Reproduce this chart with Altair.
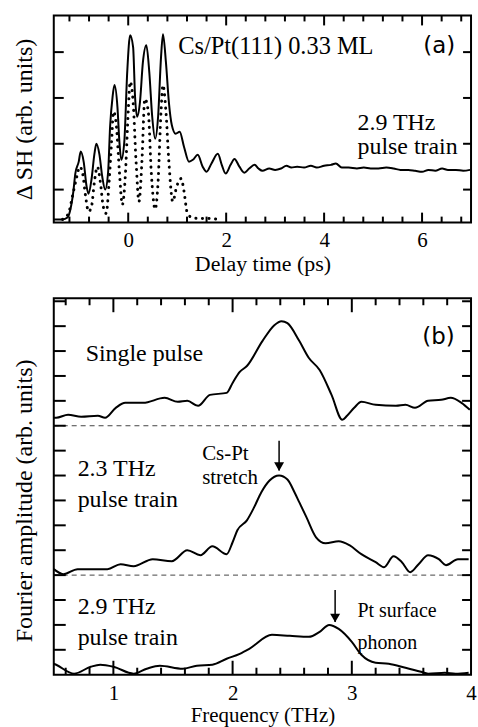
import altair as alt
import pandas as pd

# ---------------- panel (a): delay-time trace ----------------
delay_ps = [-1.52, -1.34, -1.24, -1.18, -1.12, -1.08, -1.01, -0.97, -0.91, -0.85,
            -0.81, -0.75, -0.69, -0.65, -0.59, -0.53, -0.47, -0.41, -0.37, -0.32,
            -0.28, -0.22, -0.18, -0.14, -0.08, -0.02, 0.04, 0.10, 0.14, 0.18,
            0.24, 0.30, 0.37, 0.43, 0.49, 0.55, 0.61, 0.67, 0.71, 0.77,
            0.83, 0.89, 0.97, 1.05, 1.14, 1.24, 1.32, 1.42, 1.52, 1.60,
            1.70, 1.83, 1.91, 1.99, 2.09, 2.17, 2.27, 2.37, 2.47, 2.58,
            2.66, 2.74, 2.88, 3.00, 3.12, 3.23, 3.33, 3.45, 3.59, 3.73,
            3.85, 4.00, 4.14, 4.24, 4.36, 4.50, 4.67, 4.81, 4.95, 5.11,
            5.27, 5.42, 5.56, 5.72, 5.86, 6.00, 6.13, 6.27, 6.41, 6.53,
            6.69, 6.84, 6.98]
sh_signal = [-0.65, -0.65, -0.61, -0.43, -0.04, 0.35, 0.61, 0.83, 0.61, 0.07,
             -0.09, 0.22, 0.78, 1.00, 0.78, 0.28, 0.00, 0.39, 1.37, 2.02,
             2.28, 1.80, 1.04, 0.65, 1.04, 2.57, 3.37, 3.11, 2.02, 1.59,
             1.91, 2.78, 3.15, 2.57, 1.59, 1.11, 1.59, 2.89, 3.39, 2.78,
             1.91, 1.41, 1.22, 1.26, 0.93, 0.61, 0.65, 0.76, 0.50, 0.39,
             0.57, 0.78, 0.54, 0.35, 0.54, 0.67, 0.50, 0.37, 0.46, 0.54,
             0.46, 0.41, 0.46, 0.43, 0.46, 0.52, 0.48, 0.50, 0.48, 0.52,
             0.48, 0.52, 0.54, 0.57, 0.48, 0.48, 0.46, 0.48, 0.46, 0.46,
             0.48, 0.46, 0.43, 0.43, 0.41, 0.39, 0.43, 0.41, 0.46, 0.43,
             0.43, 0.41, 0.43]

pump_ps = [-1.34, -1.22, -1.14, -1.05, -0.99, -0.93, -0.87, -0.81, -0.75, -0.69,
           -0.63, -0.57, -0.51, -0.45, -0.39, -0.34, -0.30, -0.24, -0.18, -0.12,
           -0.06, 0.00, 0.04, 0.10, 0.16, 0.22, 0.28, 0.34, 0.41, 0.47,
           0.55, 0.61, 0.67, 0.71, 0.77, 0.83, 0.91, 0.99, 1.08, 1.14,
           1.20, 1.30, 1.46, 1.66, 1.83]
pump_signal = [-0.65, -0.52, -0.15, 0.28, 0.50, 0.35, -0.15, -0.48, -0.37, 0.17,
               0.50, 0.17, -0.37, -0.52, 0.17, 1.04, 1.70, 1.37, 0.39, -0.33,
               0.28, 1.70, 2.35, 1.91, 0.61, -0.26, 0.61, 1.98, 1.70, 0.39,
               -0.43, 0.17, 1.70, 2.28, 1.70, 0.61, -0.26, 0.07, 0.24, -0.04,
               -0.48, -0.61, -0.63, -0.63, -0.65]

# ---------------- panel (b): Fourier spectra ----------------
freq_single = [0.50, 0.52, 0.62, 0.73, 0.87, 0.93, 1.02, 1.10, 1.25, 1.43,
               1.54, 1.62, 1.71, 1.81, 1.95, 2.00, 2.06, 2.12, 2.25, 2.35,
               2.41, 2.46, 2.56, 2.64, 2.73, 2.83, 2.92, 2.96, 3.02, 3.08,
               3.20, 3.37, 3.45, 3.53, 3.64, 3.75, 3.83, 3.92, 3.99]
amp_single = [10.32, 10.32, 10.44, 10.36, 10.40, 10.32, 10.72, 10.92, 10.92, 11.12,
              10.96, 11.00, 10.80, 11.24, 11.32, 11.72, 12.16, 12.40, 13.40, 14.04,
              14.20, 14.12, 13.40, 12.72, 12.24, 11.24, 10.24, 10.40, 10.72, 10.96,
              10.84, 10.80, 10.84, 10.72, 11.00, 11.04, 11.12, 10.92, 10.64]

freq_23 = [0.50, 0.58, 0.70, 0.95, 1.06, 1.17, 1.33, 1.49, 1.62, 1.73,
           1.83, 1.95, 2.00, 2.04, 2.12, 2.18, 2.24, 2.31, 2.39, 2.46,
           2.52, 2.56, 2.62, 2.70, 2.78, 2.89, 2.98, 3.08, 3.20, 3.27,
           3.35, 3.42, 3.49, 3.56, 3.64, 3.73, 3.79, 3.89, 3.98]
amp_23 = [4.24, 4.04, 4.24, 4.24, 4.44, 4.36, 4.64, 4.56, 5.00, 4.80,
          5.16, 4.84, 5.32, 5.80, 6.20, 6.72, 7.32, 7.80, 8.00, 7.84,
          7.32, 6.92, 6.32, 5.52, 5.28, 5.36, 5.20, 4.84, 4.52, 4.32,
          4.76, 4.52, 4.12, 4.44, 4.80, 4.64, 4.40, 4.64, 4.64]

freq_29 = [0.50, 0.52, 0.67, 0.81, 0.89, 1.00, 1.17, 1.28, 1.39, 1.58,
           1.70, 1.83, 1.95, 2.06, 2.14, 2.33, 2.48, 2.64, 2.73, 2.81,
           2.89, 3.00, 3.08, 3.20, 3.31, 3.45, 3.58, 3.64, 3.78, 3.87, 3.98]
amp_29 = [0.44, 0.40, 0.04, 0.32, 0.40, 0.32, 0.04, 0.24, 0.36, 0.24,
          0.36, 0.40, 0.64, 0.84, 1.04, 1.60, 1.56, 1.52, 1.72, 2.00,
          1.84, 1.32, 0.80, 0.48, 0.44, 0.28, 0.12, 0.04, 0.08, 0.04, 0.08]

# ticks / reference lines / arrows
a_x_major = [0, 2, 4, 6]
a_x_minor = [-1.2, -0.8, -0.4, 0.4, 0.8, 1.2, 1.6, 2.4, 2.8, 3.2, 3.6,
             4.4, 4.8, 5.2, 5.6, 6.4, 6.8]
a_y_ticks = [0, 1, 2, 3]
b_x_major = [1, 2, 3, 4]
b_x_minor = [0.6, 0.8, 1.2, 1.4, 1.6, 1.8, 2.2, 2.4, 2.6, 2.8,
             3.2, 3.4, 3.6, 3.8]
b_y_ticks = list(range(1, 16))
b_baselines = [4, 10]
arrow_freq = [2.39, 2.86]
arrow_top = [9.4, 3.4]
arrow_tip = [8.2, 2.12]

# ---------------- layout constants ----------------
W = 419
HA = 208
HB = 378
SERIF = "Liberation Serif, Times New Roman, serif"
SANS = "DejaVu Sans, sans-serif"

one = alt.Data(values=[{"k": 0}])

xa = alt.Scale(domain=[-1.52, 7.0], nice=False, zero=False)
ya = alt.Scale(domain=[-0.72, 3.80], nice=False, zero=False)
xb = alt.Scale(domain=[0.5, 4.0], nice=False, zero=False)
yb = alt.Scale(domain=[0, 15.12], nice=False, zero=False)

ax_xa = alt.Axis(values=a_x_major, title="Delay time (ps)", ticks=False, tickSize=0,
                 domain=False, grid=False, labelPadding=7, titlePadding=3,
                 labelFontSize=21, titleFontSize=22, format="d", labelFlush=False)
ax_ya = alt.Axis(labels=False, ticks=False, tickSize=0, domain=False, grid=False,
                 title="Δ SH (arb. units)", titlePadding=17, titleFontSize=24)
ax_xb = alt.Axis(values=b_x_major, title="Frequency (THz)", ticks=False, tickSize=0,
                 domain=False, grid=False, labelPadding=8, titlePadding=1,
                 labelFontSize=21, titleFontSize=21, format="d", labelFlush=False)
ax_yb = alt.Axis(labels=False, ticks=False, tickSize=0, domain=False, grid=False,
                 title="Fourier amplitude (arb. units)", titlePadding=17,
                 titleFontSize=24, titleY=203)


def label(text, x, y, size=24, font=SERIF):
    return alt.Chart(one).mark_text(text=text, font=font, fontSize=size, align="left",
                                    baseline="alphabetic", color="black").encode(
        x=alt.value(x), y=alt.value(y))


def xticks(vals, xs, ax, h, length, width=2):
    df = pd.DataFrame({"x": vals})
    bot = alt.Chart(df).mark_rule(color="black", strokeWidth=width).encode(
        x=alt.X("x:Q", scale=xs, axis=ax), y=alt.value(h), y2=alt.value(h - length))
    top = alt.Chart(df).mark_rule(color="black", strokeWidth=width).encode(
        x=alt.X("x:Q", scale=xs, axis=ax), y=alt.value(0), y2=alt.value(length))
    return [bot, top]


def yticks(vals, ys, ax, llen, rlen, width=2):
    df = pd.DataFrame({"y": vals})
    left = alt.Chart(df).mark_rule(color="black", strokeWidth=width).encode(
        y=alt.Y("y:Q", scale=ys, axis=ax), x=alt.value(0), x2=alt.value(llen))
    right = alt.Chart(df).mark_rule(color="black", strokeWidth=width).encode(
        y=alt.Y("y:Q", scale=ys, axis=ax), x=alt.value(W - rlen), x2=alt.value(W))
    return [left, right]


# ---------------- panel (a) ----------------
a_solid = alt.Chart(pd.DataFrame({"x": delay_ps, "y": sh_signal})).mark_line(
    color="black", strokeWidth=2, interpolate="monotone").encode(
    x=alt.X("x:Q", scale=xa, axis=ax_xa), y=alt.Y("y:Q", scale=ya, axis=ax_ya))
a_dotted = alt.Chart(pd.DataFrame({"x": pump_ps, "y": pump_signal})).mark_line(
    color="black", strokeWidth=3, strokeDash=[0.1, 6.5], strokeCap="round",
    interpolate="monotone").encode(
    x=alt.X("x:Q", scale=xa, axis=ax_xa), y=alt.Y("y:Q", scale=ya, axis=ax_ya))

panel_a = alt.layer(
    a_solid, a_dotted,
    *xticks(a_x_major, xa, ax_xa, HA, 10),
    *xticks(a_x_minor, xa, ax_xa, HA, 6),
    *yticks(a_y_ticks, ya, ax_ya, 10, 8),
    label("Cs/Pt(111) 0.33 ML", 125, 39, 24.5),
    label("(a)", 371, 38, 23, SANS),
    label("2.9 THz", 305, 115),
    label("pulse train", 305, 139),
).properties(width=W, height=HA)

# ---------------- panel (b) ----------------
def spectrum(f, a):
    return alt.Chart(pd.DataFrame({"x": f, "y": a})).mark_line(
        color="black", strokeWidth=2, interpolate="monotone").encode(
        x=alt.X("x:Q", scale=xb, axis=ax_xb), y=alt.Y("y:Q", scale=yb, axis=ax_yb))

b_dash = alt.Chart(pd.DataFrame({"y": b_baselines})).mark_rule(
    color="#444444", strokeWidth=1, strokeDash=[5, 4]).encode(
    y=alt.Y("y:Q", scale=yb, axis=ax_yb))

arrows_df = pd.DataFrame({"x": arrow_freq, "y": arrow_top, "y2": arrow_tip})
b_shaft = alt.Chart(arrows_df).mark_rule(color="black", strokeWidth=1.5).encode(
    x=alt.X("x:Q", scale=xb, axis=ax_xb), y=alt.Y("y:Q", scale=yb, axis=ax_yb), y2="y2:Q")
b_head = alt.Chart(arrows_df).mark_point(
    shape="triangle-down", filled=True, size=100, color="black", opacity=1, yOffset=-4).encode(
    x=alt.X("x:Q", scale=xb, axis=ax_xb), y=alt.Y("y2:Q", scale=yb, axis=ax_yb))

panel_b = alt.layer(
    b_dash,
    spectrum(freq_single, amp_single),
    spectrum(freq_23, amp_23),
    spectrum(freq_29, amp_29),
    b_shaft, b_head,
    *xticks([1, 2, 3], xb, ax_xb, HB, 14),
    *xticks(b_x_minor, xb, ax_xb, HB, 7),
    *yticks(b_y_ticks, yb, ax_yb, 12, 9),
    label("Single pulse", 32, 63),
    label("(b)", 370, 46, 23, SANS),
    label("Cs-Pt", 149, 162, 21),
    label("stretch", 149, 186, 21),
    label("2.3 THz", 24, 178),
    label("pulse train", 24, 210),
    label("2.9 THz", 24, 317),
    label("pulse train", 24, 348),
    label("Pt surface", 305, 320, 20),
    label("phonon", 305, 352, 20),
).properties(width=W, height=HB)

chart = alt.vconcat(panel_a, panel_b, spacing=21).properties(
    padding={"left": 12, "top": 12, "right": 0, "bottom": 0},
    background="white",
).configure_view(
    stroke="black", strokeWidth=2
).configure_axis(
    labelFont=SERIF, titleFont=SERIF, labelColor="black", titleColor="black",
    titleFontWeight="normal"
)

chart.save("out.html", embed_options={"renderer": "svg", "actions": False})
